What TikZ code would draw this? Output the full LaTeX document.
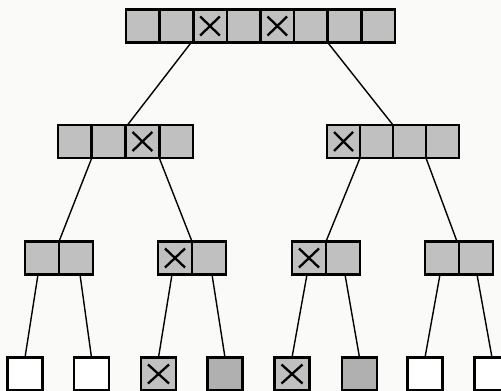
\documentclass[tikz,border=0pt]{standalone}
\usetikzlibrary{calc}
\definecolor{cellgray}{RGB}{192,192,192}
\definecolor{leafgray}{RGB}{176,176,176}
\definecolor{paper}{RGB}{250,250,248}
\tikzset{
  cellbox/.style={draw=black, line width=2.6pt, fill=cellgray, minimum height=33pt, inner sep=0pt, outer sep=0pt},
  xmark/.style={path picture={\draw[line width=2.3pt]
      ([xshift=7pt,yshift=-7pt]path picture bounding box.north west) -- ([xshift=-7pt,yshift=7pt]path picture bounding box.south east)
      ([xshift=7pt,yshift=7pt]path picture bounding box.south west) -- ([xshift=-7pt,yshift=-7pt]path picture bounding box.north east);}},
  leafbox/.style={draw=black, line width=2.8pt, fill=white, minimum width=35pt, minimum height=33pt, inner sep=0pt, outer sep=0pt},
  link/.style={draw=black, line width=1.4pt}
}
\begin{document}
\begin{tikzpicture}[x=1pt,y=-1pt]
\useasboundingbox (0,0) rectangle (501,391);
\fill[paper] (0,0) rectangle (501,391);
\clip (0,0) rectangle (501,391);
% top row
\foreach \i/\xx in {1/142.8,2/176.4,4/243.7,6/310.9,7/344.6,8/378.2}
  \node[cellbox, minimum width=33.6pt] (t\i) at (\xx,26) {};
\node[cellbox, minimum width=33.6pt, xmark] (t3) at (210.0,26) {};
\node[cellbox, minimum width=33.6pt, xmark] (t5) at (277.3,26) {};
% level 2 left
\node[cellbox, minimum width=33.75pt] (a1) at (74.9,141.5) {};
\node[cellbox, minimum width=33.75pt] (a2) at (108.6,141.5) {};
\node[cellbox, minimum width=33.75pt, xmark] (a3) at (142.4,141.5) {};
\node[cellbox, minimum width=33.75pt] (a4) at (176.1,141.5) {};
% level 2 right
\node[cellbox, minimum width=33pt, xmark] (b1) at (343.5,141.5) {};
\node[cellbox, minimum width=33pt] (b2) at (376.5,141.5) {};
\node[cellbox, minimum width=33pt] (b3) at (409.5,141.5) {};
\node[cellbox, minimum width=33pt] (b4) at (442.5,141.5) {};
% level 3
\node[cellbox, minimum width=34pt] (p1) at (42,258) {};
\node[cellbox, minimum width=34pt] (p2) at (76,258) {};
\node[cellbox, minimum width=34pt, xmark] (q1) at (175,258) {};
\node[cellbox, minimum width=34pt] (q2) at (209,258) {};
\node[cellbox, minimum width=34pt, xmark] (r1) at (309,258) {};
\node[cellbox, minimum width=34pt] (r2) at (343,258) {};
\node[cellbox, minimum width=34pt] (s1) at (442,258) {};
\node[cellbox, minimum width=34pt] (s2) at (476,258) {};
% leaves
\node[leafbox] (l1) at (25,374) {};
\node[leafbox] (l2) at (91.5,374) {};
\node[leafbox, fill=cellgray, xmark] (l3) at (158.5,374) {};
\node[leafbox, fill=leafgray] (l4) at (225,374) {};
\node[leafbox, fill=cellgray, xmark] (l5) at (292,374) {};
\node[leafbox, fill=leafgray] (l6) at (359.5,374) {};
\node[leafbox] (l7) at (425,374) {};
\node[leafbox] (l8) at (492,374) {};
% connectors
\draw[link] ([xshift=-2pt]t2.south east) -- ([xshift=2pt]a2.north east);
\draw[link] (t6.south east) -- (b2.north east);
\draw[link] (a1.south east) -- (p1.north east);
\draw[link] (a3.south east) -- (q1.north east);
\draw[link] (b1.south east) -- (r1.north east);
\draw[link] (b3.south east) -- ([xshift=-2pt]s1.north east);
\draw[link] ([xshift=-4pt]p1.south) -- (l1.north);
\draw[link] ([xshift=4pt]p2.south) -- (l2.north);
\draw[link] ([xshift=-3pt]q1.south) -- (l3.north);
\draw[link] ([xshift=3pt]q2.south) -- (l4.north);
\draw[link] ([xshift=-2pt]r1.south) -- (l5.north);
\draw[link] ([xshift=2pt]r2.south) -- (l6.north);
\draw[link] ([xshift=-2pt]s1.south) -- (l7.north);
\draw[link] ([xshift=1pt]s2.south) -- (l8.north);
\end{tikzpicture}
\end{document}
